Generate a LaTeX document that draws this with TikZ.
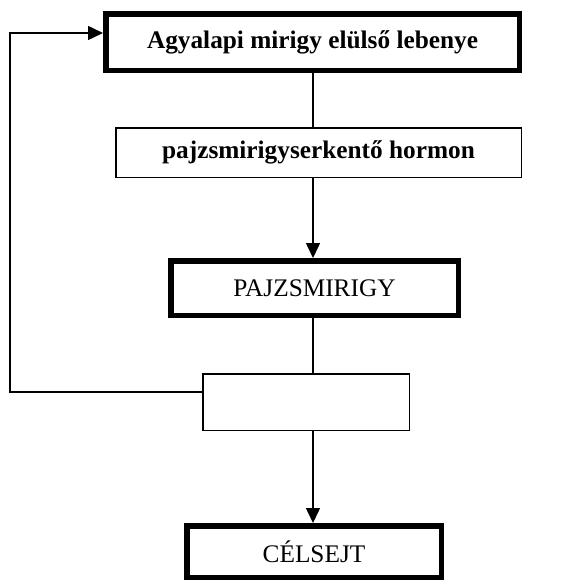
\documentclass[tikz,border=0pt]{standalone}
\usepackage{fontspec}
\setmainfont{Liberation Serif}
\usetikzlibrary{arrows.meta}

\begin{document}
\begin{tikzpicture}[x=1pt,y=-1pt,
        thickbox/.style={draw,line width=5.5pt,inner sep=0pt},
        thinbox/.style={draw,line width=1.5pt,inner sep=0pt},
        arr/.style={line width=1.5pt,-{Triangle[length=15pt,width=14pt]}},
        every node/.style={font=\fontsize{25.3}{29}\selectfont}]
            \useasboundingbox (0,0) rectangle (560,581);
            \node[thickbox,minimum width=413.5pt,minimum height=56.5pt] (hypo) at (312.5,42)
                {\textbf{Agyalapi mirigy elülső lebenye}};
            \node[thinbox,minimum width=405.5pt,minimum height=49.5pt] (tsh) at (318.5,152.5)
                {\textbf{pajzsmirigyserkentő hormon}};
            \node[thickbox,minimum width=287.5pt,minimum height=54.5pt] (thyr) at (314.5,288)
                {PAJZSMIRIGY};
            \node[thinbox,minimum width=206.5pt,minimum height=56.5pt] (hormon) at (306,402) {};
            \node[thickbox,minimum width=254.5pt,minimum height=51.5pt] (target) at (314,551.5)
                {CÉLSEJT};
            \coordinate (fbbot) at (10,392);
            \coordinate (fbtop) at (10,33);
            \draw[line width=1.5pt] (313,0 |- hypo.south) -- (313,0 |- tsh.north);
            \draw[arr] (313,0 |- tsh.south) -- (313,0 |- thyr.north);
            \draw[line width=1.5pt] (313,0 |- thyr.south) -- (313,0 |- hormon.north);
            \draw[arr] (313,0 |- hormon.south) -- (313,0 |- target.north);
            \draw[arr] (hormon.west |- fbbot) -- (fbbot) -- (fbtop) -- (hypo.west |- fbtop);
        \end{tikzpicture}
\end{document}
